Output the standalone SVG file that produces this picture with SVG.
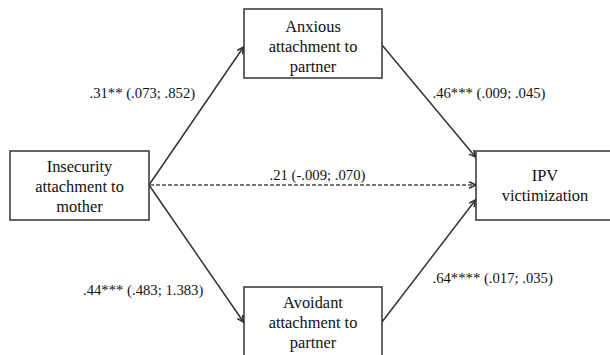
<svg xmlns="http://www.w3.org/2000/svg" width="610" height="355" viewBox="0 0 610 355">
<style>
.box{fill:#fff;stroke:#333;stroke-width:1.5}
.t{font-size:16.4px;fill:#111;text-anchor:middle}
.lbl{font-size:14.7px;fill:#111}
.c{fill:none;stroke:#333;stroke-width:1.5}
.d{fill:none;stroke:#777;stroke-width:2;stroke-dasharray:4 2}
</style>
<defs>
<marker id="arr" viewBox="0 0 10 10" refX="9" refY="5" markerWidth="8" markerHeight="8" markerUnits="userSpaceOnUse" orient="auto">
<path d="M1,1 L9,5 L1,9" fill="none" stroke="#333" stroke-width="2"/>
</marker>
</defs>
<rect width="610" height="355" fill="#fff"/>
<g font-family="Liberation Serif, DejaVu Serif, serif">
<g id="connectors">
<line class="c" x1="149" y1="185" x2="243.5" y2="47" marker-end="url(#arr)"/>
<line class="c" x1="149" y1="185" x2="243.5" y2="322" marker-end="url(#arr)"/>
<line class="c" x1="382" y1="45" x2="475.5" y2="157" marker-end="url(#arr)"/>
<line class="c" x1="382" y1="322" x2="475.5" y2="200" marker-end="url(#arr)"/>
<line class="d" x1="150" y1="185" x2="475.5" y2="185" marker-end="url(#arr)"/>
<text class="lbl" x="89.5" y="98">.31** (.073; .852)</text>
<text class="lbl" x="432.5" y="98">.46*** (.009; .045)</text>
<text class="lbl" x="269.5" y="180">.21 (-.009; .070)</text>
<text class="lbl" x="83" y="295">.44*** (.483; 1.383)</text>
<text class="lbl" x="432.5" y="283">.64**** (.017; .035)</text>
</g>
<g id="anxious">
<rect class="box" x="244" y="9" width="138" height="69"/>
<text class="t" x="313" y="32">Anxious</text>
<text class="t" x="313" y="52">attachment to</text>
<text class="t" x="313" y="72">partner</text>
</g>
<g id="mother">
<rect class="box" x="10" y="151" width="139" height="69"/>
<text class="t" x="79.5" y="172">Insecurity</text>
<text class="t" x="79.5" y="192">attachment to</text>
<text class="t" x="79.5" y="212">mother</text>
</g>
<g id="ipv">
<rect class="box" x="476" y="151" width="138" height="69"/>
<text class="t" x="545" y="181">IPV</text>
<text class="t" x="545" y="201">victimization</text>
</g>
<g id="avoidant">
<rect class="box" x="244" y="287" width="138" height="69"/>
<text class="t" x="313" y="308">Avoidant</text>
<text class="t" x="313" y="328">attachment to</text>
<text class="t" x="313" y="348">partner</text>
</g>
</g>
</svg>
